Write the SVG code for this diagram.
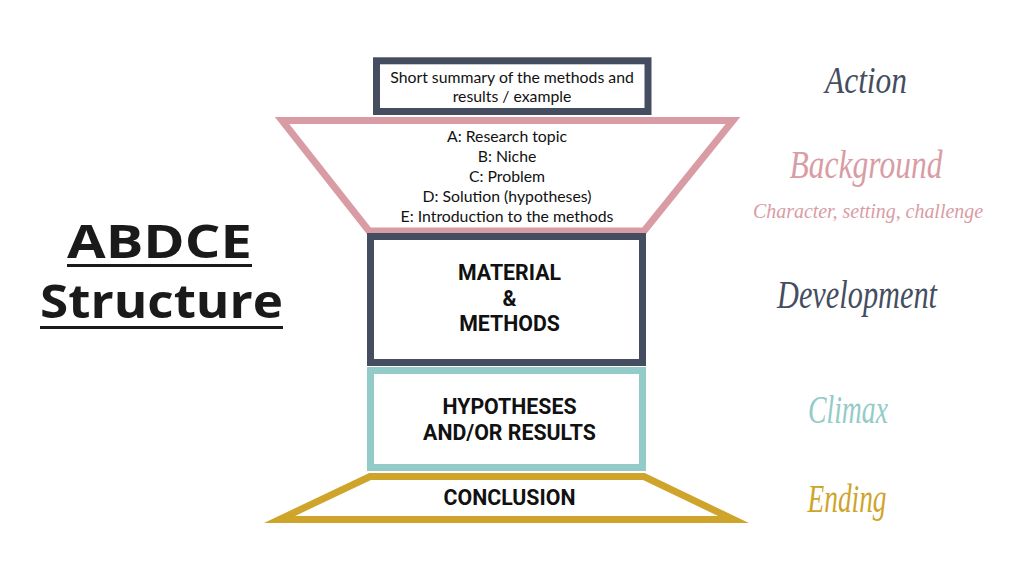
<svg xmlns="http://www.w3.org/2000/svg" width="1024" height="576" viewBox="0 0 1024 576">
<style>
.bg{fill:#ffffff}
.frame{fill:#ffffff;stroke-width:7;stroke-linejoin:miter;stroke-miterlimit:10}
.dark{stroke:#454d60}
.pink{stroke:#d99ca5}
.teal{stroke:#93cbc8}
.gold{stroke:#cfa42a}
.body{font-family:Lato,"Open Sans","Liberation Sans",sans-serif;font-size:15.8px;fill:#111;text-anchor:middle}
.bold{font-family:Roboto,"Liberation Sans",Arial,sans-serif;font-weight:bold;font-size:21.3px;fill:#111;text-anchor:middle}
.script{font-family:"Liberation Serif","DejaVu Serif",serif;font-style:italic;text-anchor:middle}
.title{font-family:"Open Sans","DejaVu Sans",sans-serif;font-weight:bold;font-size:46px;fill:#1a1a1a}
</style>
<rect class="bg" x="0" y="0" width="1024" height="576"/>
<g id="title">
<text class="title" x="67" y="258" textLength="185" lengthAdjust="spacingAndGlyphs">ABDCE</text>
<line x1="67" y1="265.5" x2="252" y2="265.5" stroke="#1a1a1a" stroke-width="3"/>
<text class="title" x="40" y="318" textLength="243" lengthAdjust="spacingAndGlyphs">Structure</text>
<line x1="40" y1="327.5" x2="283" y2="327.5" stroke="#1a1a1a" stroke-width="3"/>
</g>
<g id="background-node">
<polygon class="frame pink" points="282,120.5 733,120.5 644,231 369,231"/>
<text class="body" x="507" y="142">A: Research topic</text>
<text class="body" x="507" y="162">B: Niche</text>
<text class="body" x="507" y="181.5">C: Problem</text>
<text class="body" x="507" y="202">D: Solution (hypotheses)</text>
<text class="body" x="507" y="222">E: Introduction to the methods</text>
</g>
<g id="action-node">
<rect class="frame dark" x="376.5" y="60.8" width="271.5" height="50.7"/>
<text class="body" x="512" y="83">Short summary of the methods and</text>
<text class="body" x="512" y="102">results / example</text>
</g>
<g id="development-node">
<rect class="frame dark" x="370.5" y="236.5" width="272" height="126"/>
<text class="bold" x="509.5" y="280">MATERIAL</text>
<text class="bold" x="509.5" y="306">&amp;</text>
<text class="bold" x="509.5" y="331">METHODS</text>
</g>
<g id="climax-node">
<rect class="frame teal" x="370.5" y="370.5" width="272" height="97"/>
<text class="bold" x="509.5" y="414">HYPOTHESES</text>
<text class="bold" x="509.5" y="440">AND/OR RESULTS</text>
</g>
<g id="ending-node">
<polygon class="frame gold" points="370,476.5 644,476.5 733.5,519.5 279.5,519.5"/>
<text class="bold" x="509.5" y="505">CONCLUSION</text>
</g>
<g id="connectors"></g>
<g id="labels">
<text class="script" x="866" y="93" font-size="38" fill="#454d60" textLength="82" lengthAdjust="spacingAndGlyphs">Action</text>
<text class="script" x="866" y="178" font-size="40" fill="#d99ca5" textLength="153" lengthAdjust="spacingAndGlyphs">Background</text>
<text class="script" x="868" y="218" font-size="21" fill="#d99ca5" textLength="230" lengthAdjust="spacingAndGlyphs">Character, setting, challenge</text>
<text class="script" x="857" y="308" font-size="40" fill="#454d60" textLength="160" lengthAdjust="spacingAndGlyphs">Development</text>
<text class="script" x="848" y="423" font-size="40" fill="#93cbc8" textLength="80" lengthAdjust="spacingAndGlyphs">Climax</text>
<text class="script" x="847" y="512" font-size="40" fill="#cfa42a" textLength="79" lengthAdjust="spacingAndGlyphs">Ending</text>
</g>
</svg>
